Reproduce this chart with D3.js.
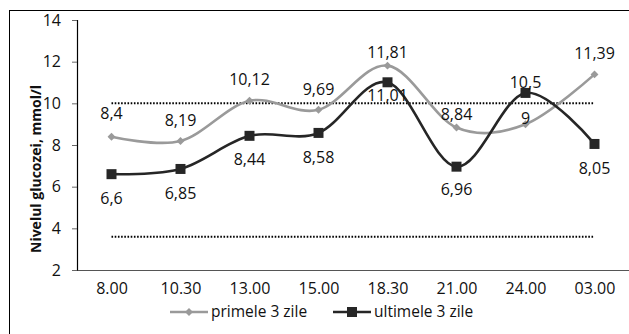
<!DOCTYPE html>
<html>
<head>
<meta charset="utf-8">
<script src="https://cdn.jsdelivr.net/npm/d3@7"></script>
<style>
  html, body { margin: 0; padding: 0; background: #fff; }
  svg text { font-family: "Open Sans", "Noto Sans", sans-serif; }
</style>
</head>
<body>
<svg id="chart" width="629" height="334"></svg>
<script>
// Glucose readings by time of day
const times = ["8.00", "10.30", "13.00", "15.00", "18.30", "21.00", "24.00", "03.00"];
const firstDays = [8.4, 8.19, 10.12, 9.69, 11.81, 8.84, 9, 11.39];
const lastDays = [6.6, 6.85, 8.44, 8.58, 11.01, 6.96, 10.5, 8.05];
const seriesNames = ["primele 3 zile", "ultimele 3 zile"];
const yTicks = [2, 4, 6, 8, 10, 12, 14];
const refHigh = 10;
const refLow = 3.6;

// label offsets in px (positive = above the point)
const firstLabelOffset = [23, 21, 21, 20, 13, 13, 6, 21];
const lastLabelOffset = [-24, -24, -24, -24, -13, -23, 11, -24];

const fmt = v => String(v).replace(".", ",");

const svg = d3.select("#chart");
const margin = { left: 77, right: 0, top: 20, bottom: 64 };
const W = 629, H = 334;

// outer frame
svg.append("rect")
  .attr("x", 9.5).attr("y", 10.5)
  .attr("width", 640).attr("height", 340)
  .attr("fill", "none").attr("stroke", "#000").attr("stroke-width", 1);

const x = d3.scalePoint()
  .domain(times)
  .range([margin.left, W - margin.right])
  .padding(0.5);

const y = d3.scaleLinear()
  .domain([2, 14])
  .range([H - margin.bottom, margin.top]);

// y axis
const yAxis = svg.append("g")
  .attr("transform", `translate(${margin.left},0)`)
  .call(d3.axisLeft(y).tickValues(yTicks).tickSize(5).tickPadding(11).tickFormat(d3.format("d")));
yAxis.select(".domain").attr("stroke", "#000").attr("stroke-width", 1.2);
yAxis.selectAll(".tick line").attr("stroke", "#666");
yAxis.selectAll("text").attr("font-size", 16).attr("fill", "#111");

// x axis
const xAxis = svg.append("g")
  .attr("transform", `translate(0,${y(2)})`)
  .call(d3.axisBottom(x).tickSize(0).tickPadding(13));
xAxis.select(".domain").attr("stroke", "#555").attr("stroke-width", 1.2);
xAxis.selectAll("text").attr("font-size", 16).attr("fill", "#111");

// y axis title
svg.append("text")
  .attr("transform", `translate(41,169) rotate(-90)`)
  .attr("text-anchor", "middle")
  .attr("font-size", 14)
  .attr("font-weight", "bold")
  .attr("fill", "#111")
  .text("Nivelul glucozei, mmol/l");

// reference limits
[refHigh, refLow].forEach(v => {
  svg.append("line")
    .attr("x1", x(times[0])).attr("x2", x(times[times.length - 1]))
    .attr("y1", y(v)).attr("y2", y(v))
    .attr("stroke", "#000").attr("stroke-width", 2)
    .attr("stroke-dasharray", "1.6,1.6");
});

const line = d3.line()
  .x((d, i) => x(times[i]))
  .y(d => y(d))
  .curve(d3.curveCardinal.tension(0));

const colFirst = "#9a9a9a";
const colLast = "#262626";

svg.append("path").datum(firstDays)
  .attr("d", line).attr("fill", "none")
  .attr("stroke", colFirst).attr("stroke-width", 2.6);
svg.append("path").datum(lastDays)
  .attr("d", line).attr("fill", "none")
  .attr("stroke", colLast).attr("stroke-width", 2.6);

const diamond = d3.symbol().type(d3.symbolDiamond2).size(40);
const square = d3.symbol().type(d3.symbolSquare).size(100);

svg.append("g").selectAll("path").data(firstDays).join("path")
  .attr("d", diamond)
  .attr("transform", (d, i) => `translate(${x(times[i])},${y(d)})`)
  .attr("fill", colFirst);
svg.append("g").selectAll("path").data(lastDays).join("path")
  .attr("d", square)
  .attr("transform", (d, i) => `translate(${x(times[i])},${y(d)})`)
  .attr("fill", colLast);

// data labels
function labels(values, offsets) {
  svg.append("g").selectAll("text").data(values).join("text")
    .attr("x", (d, i) => x(times[i]))
    .attr("y", (d, i) => y(d) - offsets[i])
    .attr("dy", "0.35em")
    .attr("text-anchor", "middle")
    .attr("font-size", 16)
    .attr("fill", "#111")
    .text(d => fmt(d));
}
labels(firstDays, firstLabelOffset);
labels(lastDays, lastLabelOffset);

// legend
const legendY = 312;
const legend = [
  { name: seriesNames[0], color: colFirst, sym: diamond, x0: 170 },
  { name: seriesNames[1], color: colLast, sym: square, x0: 333 }
];
legend.forEach(l => {
  svg.append("line")
    .attr("x1", l.x0).attr("x2", l.x0 + 38)
    .attr("y1", legendY).attr("y2", legendY)
    .attr("stroke", l.color).attr("stroke-width", 2.6);
  svg.append("path").attr("d", l.sym)
    .attr("transform", `translate(${l.x0 + 19},${legendY})`)
    .attr("fill", l.color);
  svg.append("text")
    .attr("x", l.x0 + 41).attr("y", legendY)
    .attr("dy", "0.35em")
    .attr("font-size", 15.5)
    .attr("fill", "#111")
    .text(l.name);
});
</script>
</body>
</html>
